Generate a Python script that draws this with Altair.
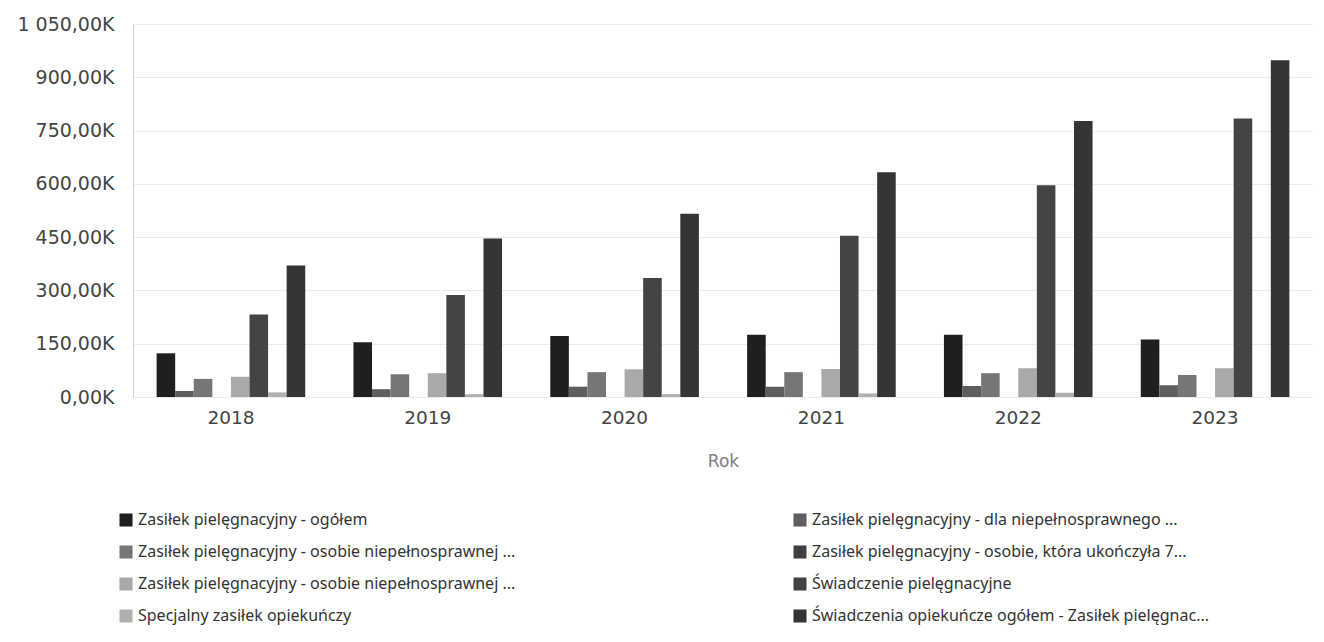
import altair as alt
import pandas as pd

years = ["2018", "2019", "2020", "2021", "2022", "2023"]

series = [
    "Zasiłek pielęgnacyjny - ogółem",
    "Zasiłek pielęgnacyjny - dla niepełnosprawnego ...",
    "Zasiłek pielęgnacyjny - osobie niepełnosprawnej ...",
    "Zasiłek pielęgnacyjny - osobie, która ukończyła 7...",
    "Zasiłek pielęgnacyjny -  osobie niepełnosprawnej ...",
    "Świadczenie pielęgnacyjne",
    "Specjalny zasiłek opiekuńczy",
    "Świadczenia opiekuńcze ogółem - Zasiłek pielęgnac...",
]

# values in thousands (K)
zp_ogolem = [123, 154, 172, 175, 175, 162]
zp_dziecko = [17, 22, 29, 29, 31, 33]
zp_niepelnospr_1 = [51, 64, 70, 70, 67, 62]
zp_75 = [0, 0, 0, 0, 0, 0]
zp_niepelnospr_2 = [57, 67, 78, 79, 81, 81]
swiadczenie_piel = [232, 287, 335, 454, 596, 784]
specjalny = [13, 8, 8, 10, 12, 0]
opiekuncze_ogolem = [370, 446, 516, 633, 777, 948]

values = [zp_ogolem, zp_dziecko, zp_niepelnospr_1, zp_75,
          zp_niepelnospr_2, swiadczenie_piel, specjalny, opiekuncze_ogolem]

colors = ["#1f1f1f", "#5e5e5e", "#767676", "#404040",
          "#a9a9a9", "#444444", "#b0b0b0", "#353535"]

y_ticks = [0, 150, 300, 450, 600, 750, 900, 1050]

rows = []
for name, vals in zip(series, values):
    for yr, v in zip(years, vals):
        rows.append({"Rok": yr, "Seria": name, "Wartosc": v})
df = pd.DataFrame(rows)

AX_FONT = "DejaVu Sans"
LEG_FONT = "Noto Sans"

chart = alt.Chart(df).mark_bar().encode(
    x=alt.X(
        "Rok:N", sort=years, title="Rok",
        scale=alt.Scale(paddingInner=0.245, paddingOuter=0.12),
        axis=alt.Axis(labelAngle=0, ticks=False, domain=False, labelFontSize=18.5,
                      labelColor="#444444", labelPadding=11, titleFontSize=17,
                      titleColor="#808080", titleFontWeight="normal", titlePadding=27,
                      labelFont=AX_FONT, titleFont=AX_FONT),
    ),
    xOffset=alt.XOffset("Seria:N", sort=series,
                        scale=alt.Scale(domain=series, paddingInner=0, paddingOuter=0)),
    y=alt.Y(
        "Wartosc:Q",
        scale=alt.Scale(domain=[0, 1050], nice=False),
        axis=alt.Axis(
            values=y_ticks, title=None, grid=True, gridColor="#ebebeb", ticks=False,
            domain=True, domainColor="#d0d0d0", labelPadding=19, labelFontSize=19,
            labelColor="#444444", labelFont=AX_FONT,
            labelExpr="replace(replace(format(datum.value, ',.2f'), ',', ' '), '.', ',') + 'K'",
        ),
    ),
    color=alt.Color(
        "Seria:N", sort=series,
        scale=alt.Scale(domain=series, range=colors),
        legend=alt.Legend(
            title=None, orient="none", legendX=-15, legendY=488, columns=2,
            direction="horizontal",
            columnPadding=256, rowPadding=16, symbolType="square", symbolSize=170,
            symbolStrokeWidth=0, labelFontSize=16, labelColor="#333333",
            labelLimit=700, labelFont=LEG_FONT, gridAlign="all",
        ),
    ),
).properties(
    width=1180, height=373,
    autosize=alt.AutoSizeParams(type="none"),
    padding={"left": 125, "top": 16, "right": 0, "bottom": 230},
).configure_view(stroke=None)

chart.save("out.html", embed_options={"renderer": "svg", "actions": False})
